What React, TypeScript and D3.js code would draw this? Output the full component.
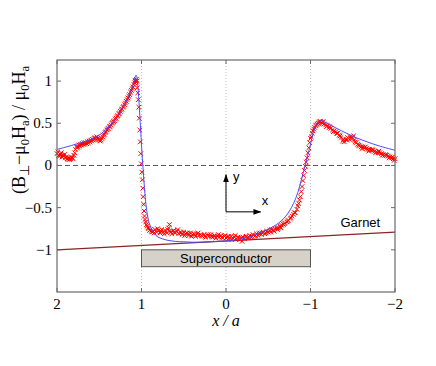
import React from "react";
import * as d3 from "d3";

// ---- data ----
const xTicks = [2, 1, 0, -1, -2];
const xTickLabels = ["2", "1", "0", "\u22121", "\u22122"];
const yTicks = [1, 0.5, 0, -0.5, -1];
const yTickLabels = ["1", "0.5", "0", "\u22120.5", "\u22121"];
const guideX = [1, 0, -1];

const theoryX = [2.0, 1.8, 1.6, 1.5, 1.4, 1.3, 1.25, 1.2, 1.15, 1.1, 1.08, 1.065, 1.055, 1.045, 1.03, 1.01, 0.99, 0.98, 0.96, 0.94, 0.92, 0.9, 0.87, 0.83, 0.78, 0.7, 0.6, 0.5, 0.4, 0.3, 0.2, 0.1, 0.0, -0.1, -0.2, -0.3, -0.4, -0.5, -0.6, -0.7, -0.75, -0.8, -0.85, -0.9, -0.95, -1.0, -1.03, -1.07, -1.11, -1.2, -1.3, -1.43, -1.55, -1.67, -1.8, -2.0];
const theoryY = [0.19, 0.245, 0.31, 0.36, 0.45, 0.56, 0.63, 0.72, 0.83, 0.96, 1.03, 1.07, 1.05, 0.96, 0.76, 0.42, 0.08, -0.06, -0.33, -0.52, -0.64, -0.71, -0.78, -0.83, -0.86, -0.885, -0.9, -0.905, -0.91, -0.91, -0.905, -0.9, -0.895, -0.885, -0.865, -0.84, -0.8, -0.755, -0.7, -0.61, -0.54, -0.45, -0.32, -0.14, 0.05, 0.25, 0.38, 0.48, 0.53, 0.5, 0.445, 0.38, 0.325, 0.28, 0.235, 0.18];

const measured: [number, number][] = [
  [2.0, 0.14], [1.99, 0.16], [1.98, 0.12], [1.97, 0.11], [1.96, 0.13], [1.95, 0.15], [1.94, 0.1], [1.93, 0.12], [1.92, 0.11], [1.91, 0.13],
  [1.9, 0.09], [1.89, 0.1], [1.88, 0.08], [1.87, 0.07], [1.86, 0.09], [1.85, 0.07], [1.84, 0.08], [1.83, 0.1], [1.82, 0.09], [1.81, 0.08],
  [1.8, 0.12], [1.79, 0.15], [1.78, 0.19], [1.77, 0.22], [1.76, 0.21], [1.75, 0.22], [1.74, 0.24], [1.73, 0.23], [1.72, 0.25], [1.71, 0.24],
  [1.7, 0.26], [1.69, 0.25], [1.68, 0.27], [1.67, 0.25], [1.66, 0.27], [1.65, 0.26], [1.64, 0.28], [1.63, 0.27], [1.62, 0.29], [1.61, 0.28],
  [1.6, 0.3], [1.59, 0.29], [1.58, 0.31], [1.57, 0.3], [1.56, 0.32], [1.55, 0.33], [1.54, 0.32], [1.53, 0.34], [1.52, 0.32], [1.51, 0.31],
  [1.5, 0.3], [1.49, 0.29], [1.48, 0.3], [1.47, 0.32], [1.46, 0.34], [1.45, 0.36], [1.44, 0.37], [1.43, 0.39], [1.42, 0.4], [1.41, 0.42],
  [1.4, 0.43], [1.39, 0.44], [1.38, 0.46], [1.37, 0.46], [1.36, 0.48], [1.35, 0.5], [1.34, 0.51], [1.33, 0.52], [1.32, 0.53], [1.31, 0.55],
  [1.3, 0.56], [1.29, 0.58], [1.28, 0.59], [1.27, 0.61], [1.26, 0.62], [1.25, 0.64], [1.24, 0.66], [1.23, 0.67], [1.22, 0.69], [1.21, 0.7],
  [1.2, 0.72], [1.19, 0.74], [1.18, 0.76], [1.17, 0.78], [1.16, 0.8], [1.15, 0.82], [1.14, 0.84], [1.13, 0.87], [1.12, 0.89], [1.11, 0.91],
  [1.1, 0.93], [1.09, 0.96], [1.08, 0.98], [1.075, 1.0], [1.07, 1.01], [1.065, 0.99], [1.06, 1.02], [1.055, 1.0],
  [1.05, 0.92], [1.044, 0.86], [1.038, 0.78], [1.032, 0.69], [1.026, 0.56], [1.02, 0.42], [1.014, 0.28], [1.008, 0.14], [1.002, 0.02], [0.996, -0.08],
  [0.99, -0.17], [0.985, -0.27], [0.98, -0.37], [0.975, -0.46], [0.97, -0.54], [0.964, -0.6], [0.958, -0.64], [0.95, -0.67], [0.942, -0.7], [0.934, -0.72],
  [0.925, -0.74], [0.915, -0.75], [0.905, -0.77], [0.895, -0.76], [0.885, -0.78], [0.875, -0.79], [0.86, -0.78], [0.85, -0.8], [0.84, -0.76], [0.82, -0.79],
  [0.81, -0.75], [0.8, -0.77], [0.78, -0.8], [0.77, -0.78], [0.76, -0.76], [0.74, -0.79], [0.73, -0.81], [0.72, -0.77], [0.7, -0.8], [0.69, -0.76],
  [0.68, -0.74], [0.67, -0.7], [0.66, -0.78], [0.65, -0.79], [0.64, -0.81], [0.62, -0.77], [0.61, -0.79], [0.6, -0.8], [0.58, -0.78], [0.57, -0.76],
  [0.56, -0.81], [0.54, -0.79], [0.53, -0.8], [0.52, -0.82], [0.5, -0.79], [0.49, -0.83], [0.48, -0.81], [0.46, -0.8], [0.45, -0.81], [0.44, -0.83],
  [0.42, -0.8], [0.41, -0.84], [0.4, -0.82], [0.38, -0.81], [0.37, -0.82], [0.36, -0.84], [0.34, -0.81], [0.33, -0.8], [0.32, -0.83], [0.3, -0.82],
  [0.29, -0.83], [0.28, -0.84], [0.26, -0.82], [0.25, -0.84], [0.24, -0.85], [0.22, -0.83], [0.21, -0.82], [0.2, -0.84], [0.18, -0.82], [0.17, -0.84],
  [0.16, -0.85], [0.14, -0.83], [0.13, -0.84], [0.12, -0.86], [0.1, -0.84], [0.09, -0.82], [0.08, -0.85], [0.06, -0.83], [0.05, -0.85], [0.04, -0.86],
  [0.02, -0.84], [0.01, -0.83], [0.0, -0.86], [-0.02, -0.85], [-0.03, -0.84], [-0.04, -0.87], [-0.06, -0.84], [-0.07, -0.88], [-0.08, -0.86], [-0.1, -0.85],
  [-0.11, -0.83], [-0.12, -0.87], [-0.14, -0.85], [-0.15, -0.86], [-0.16, -0.88], [-0.18, -0.86], [-0.19, -0.9], [-0.2, -0.85], [-0.22, -0.87], [-0.23, -0.85],
  [-0.24, -0.84], [-0.26, -0.86], [-0.27, -0.85], [-0.28, -0.83], [-0.3, -0.85], [-0.31, -0.84], [-0.32, -0.82], [-0.34, -0.84], [-0.35, -0.83], [-0.36, -0.81],
  [-0.38, -0.83], [-0.39, -0.81], [-0.4, -0.8], [-0.42, -0.82], [-0.43, -0.8], [-0.44, -0.79], [-0.46, -0.81], [-0.47, -0.8], [-0.48, -0.78], [-0.5, -0.79],
  [-0.52, -0.77], [-0.53, -0.79], [-0.54, -0.76], [-0.56, -0.77], [-0.57, -0.78], [-0.58, -0.75], [-0.6, -0.74], [-0.61, -0.76], [-0.62, -0.74], [-0.64, -0.72],
  [-0.65, -0.74], [-0.66, -0.71], [-0.68, -0.7], [-0.69, -0.69], [-0.7, -0.68], [-0.72, -0.67], [-0.73, -0.66], [-0.74, -0.65], [-0.76, -0.63], [-0.77, -0.62],
  [-0.78, -0.6], [-0.8, -0.58], [-0.81, -0.56], [-0.82, -0.56], [-0.84, -0.52], [-0.85, -0.48], [-0.86, -0.45], [-0.87, -0.41], [-0.88, -0.37], [-0.89, -0.31],
  [-0.9, -0.25], [-0.91, -0.18], [-0.92, -0.12], [-0.93, -0.06], [-0.94, -0.01], [-0.95, 0.04], [-0.96, 0.09], [-0.97, 0.15], [-0.98, 0.21], [-0.99, 0.27],
  [-1.0, 0.32], [-1.01, 0.34], [-1.02, 0.38], [-1.03, 0.41], [-1.04, 0.43], [-1.05, 0.45], [-1.06, 0.47], [-1.07, 0.48], [-1.08, 0.49], [-1.09, 0.5],
  [-1.1, 0.51], [-1.11, 0.52], [-1.12, 0.52], [-1.13, 0.51], [-1.14, 0.5], [-1.15, 0.52], [-1.16, 0.49], [-1.18, 0.48], [-1.19, 0.46], [-1.2, 0.47],
  [-1.22, 0.45], [-1.23, 0.46], [-1.24, 0.44], [-1.26, 0.42], [-1.27, 0.4], [-1.28, 0.41], [-1.3, 0.4], [-1.31, 0.38], [-1.32, 0.38], [-1.34, 0.36],
  [-1.35, 0.35], [-1.36, 0.33], [-1.38, 0.29], [-1.39, 0.31], [-1.4, 0.28], [-1.42, 0.31], [-1.43, 0.3], [-1.44, 0.33], [-1.46, 0.31], [-1.47, 0.34],
  [-1.48, 0.32], [-1.5, 0.33], [-1.51, 0.35], [-1.52, 0.3], [-1.53, 0.28], [-1.54, 0.27], [-1.56, 0.25], [-1.57, 0.24], [-1.58, 0.23], [-1.6, 0.22],
  [-1.61, 0.2], [-1.62, 0.22], [-1.64, 0.21], [-1.65, 0.22], [-1.66, 0.2], [-1.68, 0.19], [-1.69, 0.17], [-1.7, 0.19], [-1.72, 0.18], [-1.73, 0.19],
  [-1.74, 0.18], [-1.76, 0.17], [-1.77, 0.15], [-1.78, 0.16], [-1.8, 0.15], [-1.81, 0.17], [-1.82, 0.15], [-1.84, 0.14], [-1.85, 0.12], [-1.86, 0.13],
  [-1.88, 0.12], [-1.89, 0.13], [-1.9, 0.12], [-1.92, 0.11], [-1.93, 0.09], [-1.94, 0.1], [-1.96, 0.09], [-1.97, 0.1], [-1.98, 0.08], [-1.99, 0.06], [-2.0, 0.08],
];

const garnetX = [2, -2];
const garnetY = [-1.0, -0.79];
const superX = [1, -1];
const superY = [-1.0, -1.2];

// ---- layout ----
const W = 436, H = 366;
const L = 57, R = 395, T = 60, B = 292;

export default function App() {
  const x = d3.scaleLinear().domain([2, -2]).range([L, R]);
  const y = d3.scaleLinear().domain([-1.5, 1.25]).range([B, T]);

  const theoryLine = d3
    .line<number>()
    .x((_, i) => x(theoryX[i]))
    .y((d) => y(d))
    .curve(d3.curveCatmullRom.alpha(0.5))(theoryY) as string;

  const s = 2.3;
  let crosses = "";
  measured.forEach(([mx, my]) => {
    const px = x(mx), py = y(my);
    crosses += `M${px - s},${py - s}L${px + s},${py + s}M${px - s},${py + s}L${px + s},${py - s}`;
  });

  const tick = 4;
  const frame = "#6a6a6a";
  const serif = "'Liberation Serif', 'Times New Roman', serif";
  const sans = "'Liberation Sans', Arial, sans-serif";

  // coordinate arrow annotation (data units)
  const ox = 0.0, oy = -0.55;
  const ax0 = x(ox), ay0 = y(oy);
  const ayTop = y(-0.11), axEnd = x(-0.41);

  return (
    <svg width={W} height={H} style={{ position: "absolute", left: 0, top: 0, background: "#fff" }}>
      {/* guide lines */}
      {guideX.map((g) => (
        <line key={g} x1={x(g)} x2={x(g)} y1={T} y2={B} stroke="#b0b0b0" strokeWidth={0.8} strokeDasharray="1,2" />
      ))}
      <line x1={L} x2={R} y1={y(0)} y2={y(0)} stroke="#555" strokeWidth={1} strokeDasharray="5,3" />

      {/* garnet */}
      <line x1={x(garnetX[0])} y1={y(garnetY[0])} x2={x(garnetX[1])} y2={y(garnetY[1])} stroke="#8b2323" strokeWidth={1.2} />
      <text x={x(-1.59)} y={y(-0.735)} fontFamily={sans} fontSize={13} textAnchor="middle" fill="#000">Garnet</text>

      {/* superconductor */}
      <rect x={x(superX[0])} y={y(superY[0])} width={x(superX[1]) - x(superX[0])} height={y(superY[1]) - y(superY[0])} fill="#d6d2c9" stroke="#555" strokeWidth={1} />
      <text x={x(0)} y={y(-1.1) + 4.5} fontFamily={sans} fontSize={13} textAnchor="middle" fill="#000">Superconductor</text>

      {/* data */}
      <path d={crosses} stroke="#ff0000" strokeWidth={1} fill="none" />
      <path d={theoryLine} stroke="#4a4aff" strokeWidth={1} fill="none" />

      {/* arrows */}
      <defs>
        <marker id="ah" viewBox="0 0 10 10" refX="9" refY="5" markerWidth="8" markerHeight="8" markerUnits="userSpaceOnUse" orient="auto">
          <path d="M0,1.5L10,5L0,8.5Z" fill="#000" />
        </marker>
      </defs>
      <line x1={ax0} y1={ay0} x2={ax0} y2={ayTop} stroke="#000" strokeWidth={1} markerEnd="url(#ah)" />
      <line x1={ax0} y1={ay0} x2={axEnd} y2={ay0} stroke="#000" strokeWidth={1} markerEnd="url(#ah)" />
      <text x={ax0 + 7} y={ayTop + 6} fontFamily={sans} fontSize={13}>y</text>
      <text x={axEnd + 1} y={ay0 - 7} fontFamily={sans} fontSize={13}>x</text>

      {/* frame & ticks */}
      <rect x={L} y={T} width={R - L} height={B - T} fill="none" stroke={frame} strokeWidth={1.2} />
      {xTicks.map((t) => (
        <g key={"xt" + t}>
          <line x1={x(t)} x2={x(t)} y1={B} y2={B - tick} stroke={frame} />
          <line x1={x(t)} x2={x(t)} y1={T} y2={T + tick} stroke={frame} />
        </g>
      ))}
      {yTicks.map((t) => (
        <g key={"yt" + t}>
          <line x1={L} x2={L + tick} y1={y(t)} y2={y(t)} stroke={frame} />
          <line x1={R} x2={R - tick} y1={y(t)} y2={y(t)} stroke={frame} />
        </g>
      ))}
      {xTicks.map((t, i) => (
        <text key={"xl" + t} x={x(t)} y={B + 17} fontFamily={serif} fontSize={15} textAnchor="middle">{xTickLabels[i]}</text>
      ))}
      {yTicks.map((t, i) => (
        <text key={"yl" + t} x={L - 5} y={y(t) + 5} fontFamily={serif} fontSize={15} textAnchor="end">{yTickLabels[i]}</text>
      ))}

      {/* axis labels */}
      <text x={x(0)} y={B + 34} fontFamily={serif} fontSize={16} fontStyle="italic" textAnchor="middle">x / a</text>
      <text transform={`translate(25,130) rotate(-90)`} fontFamily={serif} fontSize={18} textAnchor="middle">
        (B<tspan dy={4} fontSize={12.5}>{"\u22a5"}</tspan>
        <tspan dy={-4}>{"\u2212\u03bc"}</tspan>
        <tspan dy={4} fontSize={12.5}>0</tspan>
        <tspan dy={-4}>H</tspan>
        <tspan dy={4} fontSize={12.5}>a</tspan>
        <tspan dy={-4}>{") / \u03bc"}</tspan>
        <tspan dy={4} fontSize={12.5}>0</tspan>
        <tspan dy={-4}>H</tspan>
        <tspan dy={4} fontSize={12.5}>a</tspan>
      </text>
    </svg>
  );
}
